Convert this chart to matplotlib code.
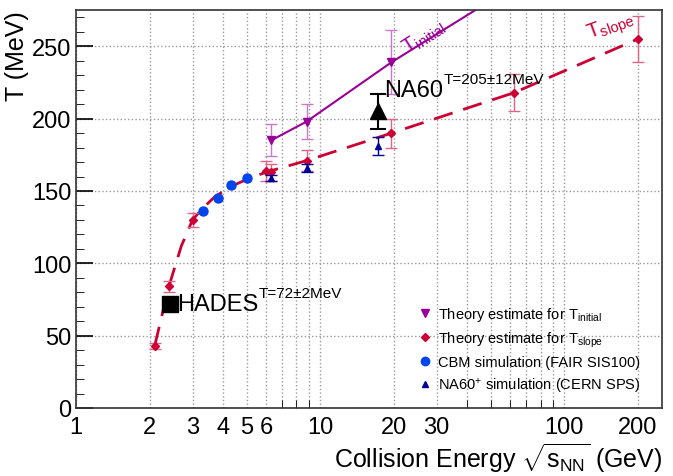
import numpy as np
import matplotlib
matplotlib.use('Agg')
import matplotlib.pyplot as plt
from matplotlib import ticker as mticker
from matplotlib.lines import Line2D
from matplotlib.transforms import offset_copy

plt.rcParams['font.family'] = ['Liberation Sans', 'DejaVu Sans']
plt.rcParams['mathtext.fontset'] = 'custom'
plt.rcParams['mathtext.rm'] = 'Liberation Sans'
plt.rcParams['mathtext.it'] = 'Liberation Sans'
plt.rcParams['mathtext.sf'] = 'Liberation Sans'

# T_slope theory estimate (red diamonds)
slope_x = [2.1, 2.4, 3.0, 6.0, 6.3, 8.8, 19.6, 62.4, 200.0]
slope_y = [43, 84, 130, 164, 163, 171, 190, 218, 255]
slope_err = [2, 4, 5, 7, 6, 7, 10, 13, 16]
# dashed curve through T_slope
curve_x = [2.1, 2.4, 2.7, 3.0, 3.3, 3.7, 4.3, 5.0, 6.0, 8.8, 19.6, 62.4, 200.0]
curve_y = [43, 84, 112, 130, 138, 146, 153, 158, 163, 171, 190, 218, 255]

# T_initial theory estimate (purple down triangles)
init_x = [6.3, 8.8, 19.6]
init_y = [185, 198, 239]
init_err = [11, 12, 22]
init_line_x = [6.3, 8.8, 19.6, 60.0]
init_line_y = [185, 198, 239, 290]

# CBM simulation (FAIR SIS100)
cbm_x = [3.3, 3.8, 4.3, 5.0]
cbm_y = [136, 145, 154, 159]

# NA60+ simulation (CERN SPS)
na60s_x = [6.3, 8.8, 17.3]
na60s_y = [159, 166, 181]
na60s_err = [2, 3, 6]

# measured points
hades_x, hades_y = 2.42, 72
na60_x, na60_y, na60_err = 17.3, 205, 12

xticks = [1, 2, 3, 4, 5, 6, 10, 20, 30, 100, 200]

c_init = '#990099'
c_slope = '#cc0033'
c_cbm = '#0044ee'
c_na60s = '#000099'

fig = plt.figure(figsize=(6.73, 4.77), dpi=100)
ax = fig.add_axes([0.113, 0.1426, 0.871, 0.834])

ax.plot(curve_x, curve_y, color=c_slope, lw=2, dashes=(7, 4), zorder=2)
ax.plot(init_line_x, init_line_y, color=c_init, lw=1.5, zorder=2)

ax.errorbar(slope_x, slope_y, yerr=slope_err, fmt='D', ms=4, color=c_slope,
            ecolor='#dd6688', elinewidth=1, capsize=4, zorder=3)
ax.errorbar(init_x, init_y, yerr=init_err, fmt='v', ms=6, color=c_init,
            ecolor='#cc77cc', elinewidth=1, capsize=4, zorder=3)
ax.plot(cbm_x, cbm_y, 'o', ms=6.5, color=c_cbm, zorder=4)
ax.errorbar(na60s_x, na60s_y, yerr=na60s_err, fmt='^', ms=5, color=c_na60s,
            elinewidth=1, capsize=4, zorder=4)

ax.plot([hades_x], [hades_y], 's', ms=11, color='black', zorder=5)
ax.errorbar([na60_x], [na60_y], yerr=[na60_err], fmt='^', ms=12, color='black',
            elinewidth=1.5, capsize=6, capthick=1.5, zorder=5)


def label_with_sup(x, y, main, sup):
    t = ax.text(x, y, main, fontsize=17, va='center', ha='left')
    fig.canvas.draw()
    w = t.get_window_extent().width * 72 / fig.dpi
    tr = offset_copy(ax.transData, fig=fig, x=w, y=8, units='points')
    ax.text(x, y, sup, fontsize=11, va='center', ha='left', transform=tr)


label_with_sup(2.6, hades_y, 'HADES', 'T=72\u00b12MeV')
label_with_sup(18.3, 220, 'NA60', 'T=205\u00b112MeV')

ax.text(21, 257, r'T$_{\rm initial}$', fontsize=15, color=c_init, rotation=33,
        ha='left', va='center')
ax.text(120, 264, r'T$_{\rm slope}$', fontsize=15, color=c_slope, rotation=20,
        ha='left', va='center')

ax.set_xscale('log')
ax.set_xlim(1, 252)
ax.set_ylim(0, 275)
ax.set_xticks(xticks)
ax.set_xticklabels([str(v) for v in xticks])
ax.xaxis.set_minor_locator(mticker.LogLocator(base=10, subs=np.arange(1, 10)))
ax.xaxis.set_minor_formatter(mticker.NullFormatter())
ax.set_yticks([0, 50, 100, 150, 200, 250])
ax.yaxis.set_minor_locator(mticker.MultipleLocator(10))

ax.grid(True, which='major', color='#999999', linestyle=':', lw=1)
ax.grid(True, which='minor', axis='x', color='#999999', linestyle=':', lw=1)
ax.tick_params(which='both', direction='in', top=False, right=False, labelsize=17)
ax.tick_params(which='major', length=12, width=1.2)
ax.tick_params(which='minor', length=6)
ax.tick_params(axis='x', which='major', length=0, pad=6)
ax.tick_params(axis='x', which='minor', length=6)
for s in ax.spines.values():
    s.set_color('#333333')
    s.set_linewidth(1.2)

ax.set_xlabel(r'Collision Energy $\sqrt{\rm s_{NN}}$ (GeV)', fontsize=18, loc='right', labelpad=2)
ax.set_ylabel('T (MeV)', fontsize=18, loc='top', labelpad=2)

handles = [
    Line2D([], [], ls='none', marker='v', ms=6, color=c_init),
    Line2D([], [], ls='none', marker='D', ms=4, color=c_slope),
    Line2D([], [], ls='none', marker='o', ms=6, color=c_cbm),
    Line2D([], [], ls='none', marker='^', ms=5, color=c_na60s),
]
labels = [r'Theory estimate for T$_{\rm initial}$',
          r'Theory estimate for T$_{\rm slope}$',
          'CBM simulation (FAIR SIS100)',
          r'NA60$^{+}$ simulation (CERN SPS)']
ax.legend(handles, labels, loc='lower right', bbox_to_anchor=(0.985, 0.0),
          frameon=False, fontsize=10.5, handletextpad=0.4, labelspacing=0.45,
          handlelength=1.0)

fig.savefig('out.png', dpi=100)
